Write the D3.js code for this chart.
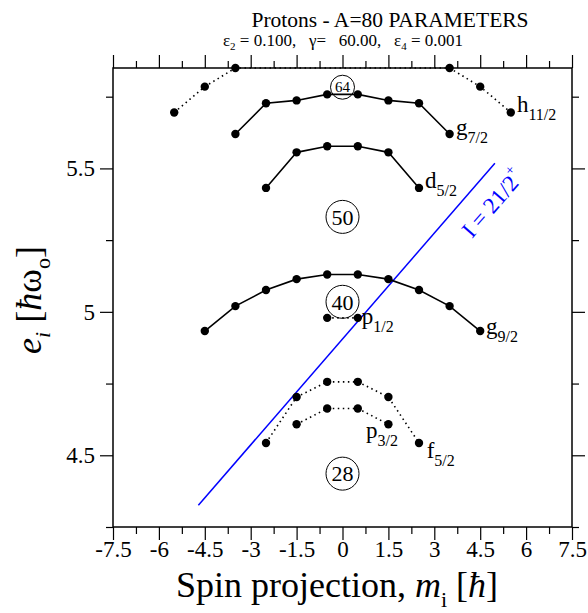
<!DOCTYPE html>
<html>
<head>
<meta charset="utf-8">
<script src="https://cdn.jsdelivr.net/npm/d3@7"></script>
<style>
  body { margin: 0; background: #fff; }
  text { font-family: "Liberation Serif", "Times New Roman", serif; white-space: pre; }
</style>
</head>
<body>
<svg id="chart" width="588" height="613"></svg>
<script>
// Single-particle levels: spin projection m and energy e (hbar omega_0)
const mH11 = [-5.5, -4.5, -3.5, -2.5, -1.5, -0.5, 0.5, 1.5, 2.5, 3.5, 4.5, 5.5];
const eH11 = [5.695, 5.785, 5.85, 5.90, 5.93, 5.95, 5.95, 5.93, 5.90, 5.85, 5.785, 5.695];
const mG7 = [-3.5, -2.5, -1.5, -0.5, 0.5, 1.5, 2.5, 3.5];
const eG7 = [5.620, 5.727, 5.737, 5.758, 5.758, 5.737, 5.727, 5.620];
const mD5 = [-2.5, -1.5, -0.5, 0.5, 1.5, 2.5];
const eD5 = [5.432, 5.556, 5.577, 5.577, 5.556, 5.432];
const mG9 = [-4.5, -3.5, -2.5, -1.5, -0.5, 0.5, 1.5, 2.5, 3.5, 4.5];
const eG9 = [4.933, 5.020, 5.076, 5.114, 5.130, 5.130, 5.114, 5.076, 5.020, 4.933];
const mP1 = [-0.5, 0.5];
const eP1 = [4.979, 4.979];
const mP3 = [-1.5, -0.5, 0.5, 1.5];
const eP3 = [4.608, 4.663, 4.663, 4.608];
const mF5 = [-2.5, -1.5, -0.5, 0.5, 1.5, 2.5];
const eF5 = [4.543, 4.703, 4.756, 4.756, 4.703, 4.543];

// Level labels: name, subscript, and where the text sits (m, e)
const labelMain = ["h", "g", "d", "g", "p", "p", "f"];
const labelSub = ["11/2", "7/2", "5/2", "9/2", "1/2", "3/2", "5/2"];
const labelM = [5.70, 3.71, 2.70, 4.69, 0.63, 0.77, 2.75];
const labelE = [5.697, 5.616, 5.430, 4.922, 4.957, 4.560, 4.490];

// Shell gaps (magic numbers) at m = 0
const magicN = ["64", "50", "40", "28"];
const magicE = [5.783, 5.331, 5.035, 4.436];

// I = 21/2+ line
const iLineM = [-4.71, 4.98];
const iLineE = [4.326, 5.518];

const xMajor = [-7.5, -6, -4.5, -3, -1.5, 0, 1.5, 3, 4.5, 6, 7.5];
const xMinor = [-6.75, -5.25, -3.75, -2.25, -0.75, 0.75, 2.25, 3.75, 5.25, 6.75];
const yMajor = [4.5, 5, 5.5];
const yMinor = [4.25, 4.75, 5.25, 5.75];

const svg = d3.select("#chart");
const mLeft = 113, mTop = 68, width = 459, height = 459;

const x = d3.scaleLinear().domain([-7.5, 7.5]).range([mLeft, mLeft + width]);
const y = d3.scaleLinear().domain([4.25, 5.85]).range([mTop + height, mTop]);
const yc = y.copy().clamp(true);

// title
svg.append("text")
    .attr("x", 390).attr("y", 27)
    .attr("text-anchor", "middle")
    .attr("font-size", 21.5)
    .text("Protons - A=80 PARAMETERS");

const sub = svg.append("text")
    .attr("x", 343).attr("y", 46)
    .attr("text-anchor", "middle")
    .attr("font-size", 17);
sub.append("tspan").text("ε");
sub.append("tspan").attr("font-size", 11).attr("dy", 4).text("2");
sub.append("tspan").attr("dy", -4).text(" = 0.100,   γ=   60.00,   ε");
sub.append("tspan").attr("font-size", 11).attr("dy", 4).text("4");
sub.append("tspan").attr("dy", -4).text(" = 0.001");

// axes: major + minor ticks on all four sides
const fmt = d => String(d);
function ticks(axisFn, scale, vals, size, transform, labels) {
  const g = svg.append("g").attr("transform", transform)
    .call(axisFn(scale).tickValues(vals).tickSize(size).tickSizeOuter(0)
      .tickFormat(labels ? fmt : () => ""));
  g.select(".domain").remove();
  g.selectAll(".tick line").attr("stroke", "#000").attr("stroke-width", 1.2);
  g.selectAll(".tick text").attr("font-size", 23)
    .attr("font-family", "Liberation Serif").attr("fill", "#000");
  return g;
}
const xb = ticks(d3.axisBottom, x, xMajor, 13, `translate(0,${mTop + height})`, true);
xb.selectAll(".tick text").attr("dy", "0.62em").attr("y", 16);
ticks(d3.axisBottom, x, xMinor, 7, `translate(0,${mTop + height})`, false);
ticks(d3.axisTop, x, xMajor, 13, `translate(0,${mTop})`, false);
ticks(d3.axisTop, x, xMinor, 7, `translate(0,${mTop})`, false);
const yl = ticks(d3.axisLeft, y, yMajor, 13, `translate(${mLeft},0)`, true);
yl.selectAll(".tick text").attr("x", -18);
ticks(d3.axisLeft, y, yMinor, 7, `translate(${mLeft},0)`, false);
ticks(d3.axisRight, y, yMajor, 13, `translate(${mLeft + width},0)`, false);
ticks(d3.axisRight, y, yMinor, 7, `translate(${mLeft + width},0)`, false);

// levels
const levels = [
  { m: mH11, e: eH11, dotted: true },
  { m: mG7, e: eG7, dotted: false },
  { m: mD5, e: eD5, dotted: false },
  { m: mG9, e: eG9, dotted: false },
  { m: mP1, e: eP1, dotted: true },
  { m: mP3, e: eP3, dotted: true },
  { m: mF5, e: eF5, dotted: true }
];

const line = d3.line().x(d => x(d[0])).y(d => yc(d[1]));

// I = 21/2+ line
svg.append("path")
    .attr("d", line(d3.zip(iLineM, iLineE)))
    .attr("fill", "none")
    .attr("stroke", "#0000ff")
    .attr("stroke-width", 1.5);

levels.forEach(lv => {
  const pts = d3.zip(lv.m, lv.e);
  svg.append("path")
      .attr("d", line(pts))
      .attr("fill", "none")
      .attr("stroke", "#000")
      .attr("stroke-width", 1.6)
      .attr("stroke-dasharray", lv.dotted ? "1.5,3.5" : null);
  svg.append("g").selectAll("circle")
    .data(pts.filter(d => d[1] <= 5.85 + 1e-6))
    .join("circle")
      .attr("cx", d => x(d[0]))
      .attr("cy", d => y(d[1]))
      .attr("r", 4.2)
      .attr("fill", "#000");
});

// frame
svg.append("rect")
    .attr("x", mLeft).attr("y", mTop)
    .attr("width", width).attr("height", height)
    .attr("fill", "none")
    .attr("stroke", "#000")
    .attr("stroke-width", 1.5);

// level labels
labelMain.forEach((t, i) => {
  const tx = svg.append("text")
      .attr("x", x(labelM[i]))
      .attr("y", y(labelE[i]))
      .attr("font-size", 23);
  tx.append("tspan").text(t);
  tx.append("tspan").attr("font-size", 16).attr("dy", 8).text(labelSub[i]);
});

// magic numbers in circles
magicN.forEach((n, i) => {
  const small = n === "64";
  const cx = x(0), cy = y(magicE[i]);
  svg.append("circle")
      .attr("cx", cx).attr("cy", cy)
      .attr("r", small ? 12 : 16.5)
      .attr("fill", "none")
      .attr("stroke", "#000")
      .attr("stroke-width", 1);
  svg.append("text")
      .attr("x", cx).attr("y", cy)
      .attr("dy", "0.35em")
      .attr("text-anchor", "middle")
      .attr("font-size", small ? 15 : 22)
      .text(n);
});

// I label along the blue line
const il = svg.append("text")
    .attr("transform", "translate(472,239) rotate(-49)")
    .attr("font-size", 23)
    .attr("fill", "#0000ff");
il.append("tspan").text("I = 21/2");
il.append("tspan").attr("font-size", 14).attr("dy", -12).text("+");

// axis titles
const xt = svg.append("text")
    .attr("x", 337).attr("y", 597)
    .attr("text-anchor", "middle")
    .attr("font-size", 36);
xt.append("tspan").text("Spin projection, ");
xt.append("tspan").attr("font-style", "italic").text("m");
xt.append("tspan").attr("font-size", 22).attr("dy", 10).text("i");
xt.append("tspan").attr("dy", -10).text(" [");
xt.append("tspan").attr("font-style", "italic").text("ħ");
xt.append("tspan").text("]");

const yt = svg.append("text")
    .attr("transform", "translate(41,300) rotate(-90)")
    .attr("text-anchor", "middle")
    .attr("font-size", 36);
yt.append("tspan").attr("font-style", "italic").text("e");
yt.append("tspan").attr("font-style", "italic").attr("font-size", 22).attr("dy", 9).text("i");
yt.append("tspan").attr("dy", -9).text(" [");
yt.append("tspan").attr("font-style", "italic").text("ħ");
yt.append("tspan").text("ω");
yt.append("tspan").attr("font-size", 22).attr("dy", 9).text("o");
yt.append("tspan").attr("dy", -9).text("]");
</script>
</body>
</html>
